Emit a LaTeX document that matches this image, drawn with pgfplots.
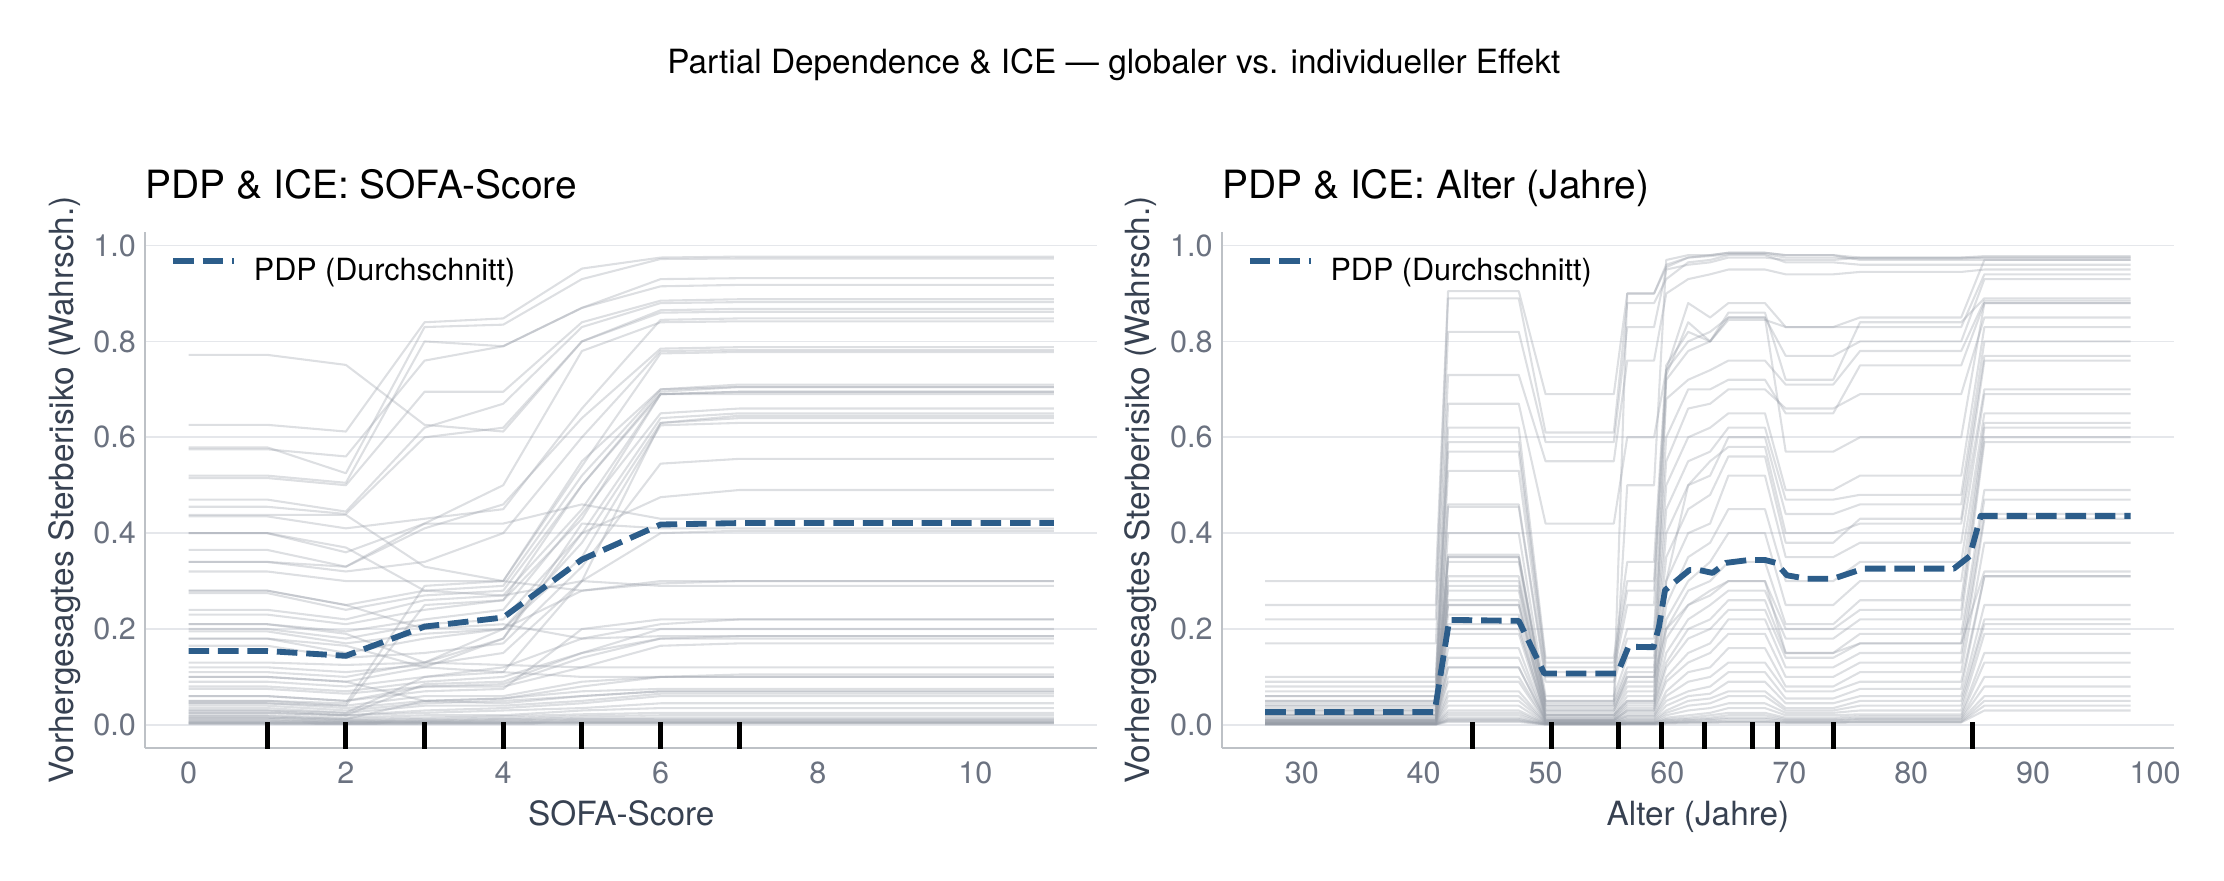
\documentclass[border=0pt]{standalone}
\usepackage{pgfplots}
\pgfplotsset{compat=1.18}
\usepackage{fontspec}
\setmainfont{TeX Gyre Heros}
\definecolor{pdpblue}{RGB}{44,93,138}
\definecolor{icecol}{RGB}{150,156,166}
\definecolor{tickcol}{RGB}{107,114,128}
\definecolor{labcol}{RGB}{55,65,81}
\definecolor{spinecol}{RGB}{189,193,198}
\definecolor{gridcol}{RGB}{229,231,235}
\pgfplotsset{
  ice/.style={icecol, opacity=0.32, line width=0.75pt, no markers, forget plot, line join=round},
  pdp/.style={pdpblue, line width=2.1pt, dash pattern=on 7.4pt off 3.2pt, no markers, line join=round},
  rug/.style={black, line width=1.8pt, no markers, forget plot, unbounded coords=jump},
  pdpaxis/.style={
    scale only axis, width=342.7pt, height=186pt,
    axis x line*=bottom, axis y line*=left,
    axis line style={spinecol, line width=0.8pt},
    major tick length=0pt,
    ymin=-0.049, ymax=1.029,
    ytick={0,0.2,0.4,0.6,0.8,1.0},
    ymajorgrids, grid style={gridcol, line width=0.6pt},
    /pgf/number format/assume math mode=true,
    tick label style={font=\fontsize{11}{13}\selectfont, text=tickcol},
    yticklabel style={anchor=east, inner sep=0pt, xshift=-3.2pt, /pgf/number format/fixed, /pgf/number format/fixed zerofill, /pgf/number format/precision=1},
    xticklabel style={anchor=base, inner sep=0pt, yshift=-12.5pt},
    xlabel style={at={(axis description cs:0.5,0)}, anchor=base, yshift=-27.6pt, font=\fontsize{12}{14}\selectfont, text=labcol, inner sep=0pt},
    ylabel style={at={(axis description cs:-0.0759,0.5)}, anchor=base, font=\fontsize{12}{14}\selectfont, text=labcol, inner sep=0pt},
    title style={at={(axis description cs:0,1)}, anchor=base west, yshift=6.1pt, font=\fontsize{14}{17}\selectfont, inner sep=0pt},
    legend style={at={(axis description cs:0,1)}, anchor=north west, xshift=9pt, yshift=-9.5pt, draw=none, fill=none, inner sep=0pt, outer sep=0pt, font=\fontsize{11}{13}\selectfont, nodes={inner sep=0pt}, /tikz/every odd column/.append style={column sep=6pt}},
    legend image code/.code={\draw[#1] (0pt,3.9pt) -- (22pt,3.9pt);},
    legend cell align=left,
  }
}
\begin{document}
\begin{tikzpicture}
\path[use as bounding box] (0,0) rectangle (800.64pt,316.8pt);
\node[anchor=base, font=\fontsize{12}{14}\selectfont, inner sep=0pt] at (401pt,290.4pt) {Partial Dependence \& ICE — globaler vs. individueller Effekt};

% ---------------- Left: SOFA-Score ----------------
\begin{axis}[pdpaxis, at={(52.3pt,47.4pt)}, anchor=south west,
  xmin=-0.55, xmax=11.55, xtick={0,2,4,6,8,10},
  xlabel={SOFA-Score}, ylabel={Vorhergesagtes Sterberisiko (Wahrsch.)},
  title={PDP \& ICE: SOFA-Score}]
\addplot[ice] coordinates {(0,.626)(1,.626)(2,.612)(3,.840)(4,.848)(5,.952)(6,.975)(7,.977)(11,.977)};
\addplot[ice] coordinates {(0,.579)(1,.579)(2,.525)(3,.830)(4,.835)(5,.930)(6,.972)(7,.973)(11,.973)};
\addplot[ice] coordinates {(0,.772)(1,.772)(2,.751)(3,.626)(4,.612)(5,.800)(6,.865)(7,.868)(11,.868)};
\addplot[ice] coordinates {(0,.520)(1,.520)(2,.505)(3,.800)(4,.790)(5,.870)(6,.915)(7,.918)(11,.918)};
\addplot[ice] coordinates {(0,.515)(1,.515)(2,.500)(3,.695)(4,.695)(5,.840)(6,.885)(7,.888)(11,.888)};
\addplot[ice] coordinates {(0,.575)(1,.575)(2,.560)(3,.760)(4,.790)(5,.870)(6,.930)(7,.932)(11,.932)};
\addplot[ice] coordinates {(0,.470)(1,.470)(2,.445)(3,.620)(4,.670)(5,.830)(6,.880)(7,.882)(11,.882)};
\addplot[ice] coordinates {(0,.455)(1,.455)(2,.440)(3,.600)(4,.620)(5,.800)(6,.860)(7,.862)(11,.862)};
\addplot[ice] coordinates {(0,.435)(1,.435)(2,.410)(3,.430)(4,.450)(5,.660)(6,.845)(7,.848)(11,.848)};
\addplot[ice] coordinates {(0,.400)(1,.400)(2,.360)(3,.420)(4,.500)(5,.780)(6,.840)(7,.842)(11,.842)};
\addplot[ice] coordinates {(0,.365)(1,.365)(2,.330)(3,.410)(4,.460)(5,.640)(6,.785)(7,.788)(11,.788)};
\addplot[ice] coordinates {(0,.340)(1,.340)(2,.320)(3,.340)(4,.400)(5,.600)(6,.780)(7,.782)(11,.782)};
\addplot[ice] coordinates {(0,.320)(1,.320)(2,.300)(3,.300)(4,.300)(5,.540)(6,.775)(7,.778)(11,.778)};
\addplot[ice] coordinates {(0,.280)(1,.280)(2,.250)(3,.280)(4,.290)(5,.520)(6,.700)(7,.710)(11,.710)};
\addplot[ice] coordinates {(0,.275)(1,.275)(2,.240)(3,.270)(4,.280)(5,.500)(6,.695)(7,.705)(11,.705)};
\addplot[ice] coordinates {(0,.240)(1,.240)(2,.220)(3,.260)(4,.270)(5,.450)(6,.690)(7,.695)(11,.695)};
\addplot[ice] coordinates {(0,.230)(1,.230)(2,.210)(3,.240)(4,.260)(5,.430)(6,.690)(7,.690)(11,.690)};
\addplot[ice] coordinates {(0,.210)(1,.210)(2,.195)(3,.220)(4,.240)(5,.440)(6,.650)(7,.660)(11,.660)};
\addplot[ice] coordinates {(0,.200)(1,.200)(2,.180)(3,.210)(4,.220)(5,.400)(6,.640)(7,.650)(11,.650)};
\addplot[ice] coordinates {(0,.195)(1,.195)(2,.170)(3,.190)(4,.200)(5,.380)(6,.630)(7,.645)(11,.645)};
\addplot[ice] coordinates {(0,.180)(1,.180)(2,.150)(3,.180)(4,.200)(5,.350)(6,.625)(7,.630)(11,.630)};
\addplot[ice] coordinates {(0,.165)(1,.165)(2,.140)(3,.150)(4,.170)(5,.330)(6,.545)(7,.555)(11,.555)};
\addplot[ice] coordinates {(0,.438)(1,.438)(2,.438)(3,.330)(4,.300)(5,.280)(6,.300)(7,.300)(11,.300)};
\addplot[ice] coordinates {(0,.400)(1,.400)(2,.370)(3,.280)(4,.270)(5,.300)(6,.290)(7,.290)(11,.290)};
\addplot[ice] coordinates {(0,.340)(1,.340)(2,.330)(3,.420)(4,.420)(5,.460)(6,.430)(7,.430)(11,.430)};
\addplot[ice] coordinates {(0,.130)(1,.130)(2,.125)(3,.130)(4,.180)(5,.420)(6,.410)(7,.410)(11,.410)};
\addplot[ice] coordinates {(0,.120)(1,.120)(2,.110)(3,.125)(4,.150)(5,.300)(6,.400)(7,.405)(11,.405)};
\addplot[ice] coordinates {(0,.280)(1,.280)(2,.250)(3,.200)(4,.210)(5,.180)(6,.185)(7,.185)(11,.185)};
\addplot[ice] coordinates {(0,.110)(1,.110)(2,.100)(3,.130)(4,.200)(5,.280)(6,.295)(7,.300)(11,.300)};
\addplot[ice] coordinates {(0,.100)(1,.100)(2,.090)(3,.120)(4,.180)(5,.400)(6,.475)(7,.490)(11,.490)};
\addplot[ice] coordinates {(0,.090)(1,.090)(2,.080)(3,.100)(4,.120)(5,.180)(6,.210)(7,.220)(11,.220)};
\addplot[ice] coordinates {(0,.080)(1,.080)(2,.070)(3,.090)(4,.100)(5,.150)(6,.200)(7,.200)(11,.200)};
\addplot[ice] coordinates {(0,.075)(1,.075)(2,.065)(3,.080)(4,.085)(5,.140)(6,.180)(7,.185)(11,.185)};
\addplot[ice] coordinates {(0,.060)(1,.060)(2,.050)(3,.080)(4,.080)(5,.120)(6,.165)(7,.170)(11,.170)};
\addplot[ice] coordinates {(0,.050)(1,.050)(2,.040)(3,.060)(4,.060)(5,.090)(6,.100)(7,.105)(11,.105)};
\addplot[ice] coordinates {(0,.045)(1,.045)(2,.035)(3,.050)(4,.055)(5,.080)(6,.100)(7,.100)(11,.100)};
\addplot[ice] coordinates {(0,.040)(1,.040)(2,.030)(3,.045)(4,.050)(5,.060)(6,.070)(7,.070)(11,.070)};
\addplot[ice] coordinates {(0,.035)(1,.035)(2,.025)(3,.040)(4,.040)(5,.050)(6,.065)(7,.065)(11,.065)};
\addplot[ice] coordinates {(0,.030)(1,.030)(2,.020)(3,.030)(4,.035)(5,.045)(6,.060)(7,.060)(11,.060)};
\addplot[ice] coordinates {(0,.025)(1,.025)(2,.020)(3,.025)(4,.030)(5,.035)(6,.045)(7,.045)(11,.045)};
\addplot[ice] coordinates {(0,.020)(1,.020)(2,.015)(3,.020)(4,.020)(5,.030)(6,.035)(7,.035)(11,.035)};
\addplot[ice] coordinates {(0,.018)(1,.018)(2,.012)(3,.015)(4,.018)(5,.022)(6,.025)(7,.025)(11,.025)};
\addplot[ice] coordinates {(0,.015)(1,.015)(2,.010)(3,.012)(4,.014)(5,.018)(6,.020)(7,.020)(11,.020)};
\addplot[ice] coordinates {(0,.012)(1,.012)(2,.008)(3,.010)(4,.012)(5,.014)(6,.015)(7,.015)(11,.015)};
\addplot[ice] coordinates {(0,.010)(1,.010)(2,.007)(3,.008)(4,.010)(5,.012)(6,.012)(7,.012)(11,.012)};
\addplot[ice] coordinates {(0,.008)(1,.008)(2,.006)(3,.007)(4,.008)(5,.010)(6,.010)(7,.010)(11,.010)};
\addplot[ice] coordinates {(0,.006)(1,.006)(2,.005)(3,.006)(4,.006)(5,.008)(6,.008)(7,.008)(11,.008)};
\addplot[ice] coordinates {(0,.005)(1,.005)(2,.004)(3,.005)(4,.005)(5,.006)(6,.006)(7,.006)(11,.006)};
\addplot[ice] coordinates {(0,.004)(1,.004)(2,.003)(3,.004)(4,.004)(5,.005)(6,.005)(7,.005)(11,.005)};
\addplot[ice] coordinates {(0,.003)(1,.003)(2,.002)(3,.003)(4,.003)(5,.004)(6,.004)(7,.004)(11,.004)};
\addplot[ice] coordinates {(0,.050)(1,.050)(2,.045)(3,.290)(4,.300)(5,.550)(6,.700)(7,.705)(11,.705)};
\addplot[ice] coordinates {(0,.045)(1,.045)(2,.040)(3,.250)(4,.260)(5,.500)(6,.690)(7,.695)(11,.695)};
\addplot[ice] coordinates {(0,.030)(1,.030)(2,.025)(3,.100)(4,.110)(5,.300)(6,.630)(7,.640)(11,.640)};
\addplot[ice] coordinates {(0,.210)(1,.210)(2,.190)(3,.130)(4,.125)(5,.120)(6,.120)(7,.120)(11,.120)};
\addplot[ice] coordinates {(0,.180)(1,.180)(2,.165)(3,.120)(4,.110)(5,.100)(6,.100)(7,.100)(11,.100)};
\addplot[ice] coordinates {(0,.100)(1,.100)(2,.090)(3,.050)(4,.045)(5,.060)(6,.070)(7,.070)(11,.070)};
\addplot[ice] coordinates {(0,.060)(1,.060)(2,.050)(3,.070)(4,.075)(5,.200)(6,.220)(7,.220)(11,.220)};
\addplot[ice] coordinates {(0,.002)(1,.002)(2,.002)(3,.002)(4,.002)(5,.003)(6,.003)(7,.003)(11,.003)};
\addplot[ice] coordinates {(0,.015)(1,.015)(2,.012)(3,.050)(4,.055)(5,.070)(6,.075)(7,.075)(11,.075)};
\addplot[ice] coordinates {(0,.025)(1,.025)(2,.020)(3,.085)(4,.090)(5,.150)(6,.180)(7,.180)(11,.180)};
\addplot[pdp] coordinates {(0,0.154)(1,0.154)(2,0.144)(3,0.205)(4,0.224)(5,0.345)(6,0.418)(7,0.421)(8,0.421)(9,0.421)(10,0.421)(11,0.421)};
\addlegendentry{PDP (Durchschnitt)}
\addplot[rug] coordinates {(1,-0.1)(1,0.005)(1,nan)(2,-0.1)(2,0.005)(2,nan)(3,-0.1)(3,0.005)(3,nan)(4,-0.1)(4,0.005)(4,nan)(5,-0.1)(5,0.005)(5,nan)(6,-0.1)(6,0.005)(6,nan)(7,-0.1)(7,0.005)};
\end{axis}

% ---------------- Right: Alter ----------------
\begin{axis}[pdpaxis, at={(439.9pt,47.4pt)}, anchor=south west,
  xmin=23.45, xmax=101.55, xtick={30,40,50,60,70,80,90,100},
  xlabel={Alter (Jahre)}, ylabel={Vorhergesagtes Sterberisiko (Wahrsch.)},
  title={PDP \& ICE: Alter (Jahre)}]
\addplot[ice] coordinates {(27,.30)(41,.30)(42,.905)(47.8,.905)(50,.69)(55.6,.69)(56.7,.90)(58.9,.90)(59.9,.955)(61.7,.975)(63.5,.978)(65,.982)(68,.982)(69.7,.975)(73.6,.975)(75.8,.973)(84.1,.973)(86,.975)(98,.975)};
\addplot[ice] coordinates {(27,.25)(41,.25)(42,.89)(47.8,.89)(50,.61)(55.6,.61)(56.7,.88)(58.9,.88)(59.9,.93)(61.7,.965)(63.5,.97)(65,.98)(68,.98)(69.7,.965)(73.6,.965)(75.8,.96)(84.1,.96)(86,.96)(98,.96)};
\addplot[ice] coordinates {(27,.22)(41,.22)(42,.82)(47.8,.82)(50,.59)(55.6,.59)(56.7,.83)(58.9,.83)(59.9,.95)(61.7,.96)(63.5,.965)(65,.975)(68,.975)(69.7,.97)(73.6,.97)(75.8,.975)(84.1,.975)(86,.978)(98,.978)};
\addplot[ice] coordinates {(27,.17)(41,.17)(42,.73)(47.8,.73)(50,.55)(55.6,.55)(56.7,.76)(58.9,.76)(59.9,.90)(61.7,.93)(63.5,.94)(65,.95)(68,.95)(69.7,.94)(73.6,.94)(75.8,.945)(84.1,.945)(86,.95)(98,.95)};
\addplot[ice] coordinates {(27,.10)(41,.10)(42,.67)(47.8,.67)(50,.42)(55.6,.42)(56.7,.60)(58.9,.60)(59.9,.74)(61.7,.88)(63.5,.85)(65,.88)(68,.88)(69.7,.83)(73.6,.83)(75.8,.85)(84.1,.85)(86,.97)(98,.97)};
\addplot[ice] coordinates {(27,.09)(41,.09)(42,.62)(47.8,.62)(50,.14)(55.6,.14)(56.7,.34)(58.9,.34)(59.9,.75)(61.7,.82)(63.5,.80)(65,.845)(68,.845)(69.7,.83)(73.6,.83)(75.8,.83)(84.1,.83)(86,.94)(98,.94)};
\addplot[ice] coordinates {(27,.08)(41,.08)(42,.59)(47.8,.59)(50,.13)(55.6,.13)(56.7,.30)(58.9,.30)(59.9,.74)(61.7,.80)(63.5,.82)(65,.85)(68,.85)(69.7,.77)(73.6,.77)(75.8,.80)(84.1,.80)(86,.93)(98,.93)};
\addplot[ice] coordinates {(27,.07)(41,.07)(42,.57)(47.8,.57)(50,.12)(55.6,.12)(56.7,.28)(58.9,.28)(59.9,.72)(61.7,.78)(63.5,.80)(65,.86)(68,.86)(69.7,.72)(73.6,.72)(75.8,.84)(84.1,.84)(86,.89)(98,.89)};
\addplot[ice] coordinates {(27,.06)(41,.06)(42,.53)(47.8,.53)(50,.11)(55.6,.11)(56.7,.25)(58.9,.25)(59.9,.68)(61.7,.72)(63.5,.74)(65,.76)(68,.76)(69.7,.71)(73.6,.71)(75.8,.78)(84.1,.78)(86,.885)(98,.885)};
\addplot[ice] coordinates {(27,.05)(41,.05)(42,.46)(47.8,.46)(50,.10)(55.6,.10)(56.7,.20)(58.9,.20)(59.9,.60)(61.7,.70)(63.5,.70)(65,.72)(68,.72)(69.7,.65)(73.6,.65)(75.8,.75)(84.1,.75)(86,.88)(98,.88)};
\addplot[ice] coordinates {(27,.045)(41,.045)(42,.455)(47.8,.455)(50,.09)(55.6,.09)(56.7,.18)(58.9,.18)(59.9,.55)(61.7,.66)(63.5,.67)(65,.70)(68,.70)(69.7,.66)(73.6,.66)(75.8,.69)(84.1,.69)(86,.85)(98,.85)};
\addplot[ice] coordinates {(27,.04)(41,.04)(42,.40)(47.8,.40)(50,.06)(55.6,.06)(56.7,.14)(58.9,.14)(59.9,.50)(61.7,.60)(63.5,.62)(65,.65)(68,.65)(69.7,.49)(73.6,.49)(75.8,.52)(84.1,.52)(86,.83)(98,.83)};
\addplot[ice] coordinates {(27,.035)(41,.035)(42,.355)(47.8,.355)(50,.05)(55.6,.05)(56.7,.12)(58.9,.12)(59.9,.45)(61.7,.55)(63.5,.57)(65,.62)(68,.62)(69.7,.47)(73.6,.47)(75.8,.48)(84.1,.48)(86,.80)(98,.80)};
\addplot[ice] coordinates {(27,.03)(41,.03)(42,.35)(47.8,.35)(50,.045)(55.6,.045)(56.7,.11)(58.9,.11)(59.9,.40)(61.7,.50)(63.5,.52)(65,.60)(68,.60)(69.7,.44)(73.6,.44)(75.8,.46)(84.1,.46)(86,.77)(98,.77)};
\addplot[ice] coordinates {(27,.03)(41,.03)(42,.34)(47.8,.34)(50,.04)(55.6,.04)(56.7,.10)(58.9,.10)(59.9,.35)(61.7,.45)(63.5,.48)(65,.56)(68,.56)(69.7,.38)(73.6,.38)(75.8,.43)(84.1,.43)(86,.76)(98,.76)};
\addplot[ice] coordinates {(27,.025)(41,.025)(42,.31)(47.8,.31)(50,.035)(55.6,.035)(56.7,.09)(58.9,.09)(59.9,.30)(61.7,.40)(63.5,.42)(65,.52)(68,.52)(69.7,.35)(73.6,.35)(75.8,.38)(84.1,.38)(86,.69)(98,.69)};
\addplot[ice] coordinates {(27,.02)(41,.02)(42,.29)(47.8,.29)(50,.03)(55.6,.03)(56.7,.08)(58.9,.08)(59.9,.25)(61.7,.35)(63.5,.38)(65,.45)(68,.45)(69.7,.30)(73.6,.30)(75.8,.34)(84.1,.34)(86,.65)(98,.65)};
\addplot[ice] coordinates {(27,.02)(41,.02)(42,.28)(47.8,.28)(50,.025)(55.6,.025)(56.7,.07)(58.9,.07)(59.9,.22)(61.7,.30)(63.5,.34)(65,.40)(68,.40)(69.7,.25)(73.6,.25)(75.8,.30)(84.1,.30)(86,.63)(98,.63)};
\addplot[ice] coordinates {(27,.015)(41,.015)(42,.26)(47.8,.26)(50,.02)(55.6,.02)(56.7,.06)(58.9,.06)(59.9,.20)(61.7,.28)(63.5,.30)(65,.34)(68,.34)(69.7,.21)(73.6,.21)(75.8,.26)(84.1,.26)(86,.62)(98,.62)};
\addplot[ice] coordinates {(27,.015)(41,.015)(42,.25)(47.8,.25)(50,.02)(55.6,.02)(56.7,.05)(58.9,.05)(59.9,.18)(61.7,.25)(63.5,.27)(65,.30)(68,.30)(69.7,.20)(73.6,.20)(75.8,.24)(84.1,.24)(86,.60)(98,.60)};
\addplot[ice] coordinates {(27,.012)(41,.012)(42,.23)(47.8,.23)(50,.015)(55.6,.015)(56.7,.045)(58.9,.045)(59.9,.15)(61.7,.22)(63.5,.25)(65,.28)(68,.28)(69.7,.18)(73.6,.18)(75.8,.22)(84.1,.22)(86,.59)(98,.59)};
\addplot[ice] coordinates {(27,.01)(41,.01)(42,.21)(47.8,.21)(50,.015)(55.6,.015)(56.7,.04)(58.9,.04)(59.9,.13)(61.7,.20)(63.5,.22)(65,.26)(68,.26)(69.7,.15)(73.6,.15)(75.8,.19)(84.1,.19)(86,.49)(98,.49)};
\addplot[ice] coordinates {(27,.01)(41,.01)(42,.19)(47.8,.19)(50,.012)(55.6,.012)(56.7,.035)(58.9,.035)(59.9,.12)(61.7,.18)(63.5,.20)(65,.24)(68,.24)(69.7,.14)(73.6,.14)(75.8,.17)(84.1,.17)(86,.47)(98,.47)};
\addplot[ice] coordinates {(27,.008)(41,.008)(42,.16)(47.8,.16)(50,.01)(55.6,.01)(56.7,.03)(58.9,.03)(59.9,.10)(61.7,.15)(63.5,.17)(65,.22)(68,.22)(69.7,.12)(73.6,.12)(75.8,.15)(84.1,.15)(86,.44)(98,.44)};
\addplot[ice] coordinates {(27,.008)(41,.008)(42,.14)(47.8,.14)(50,.01)(55.6,.01)(56.7,.025)(58.9,.025)(59.9,.09)(61.7,.13)(63.5,.15)(65,.19)(68,.19)(69.7,.10)(73.6,.10)(75.8,.13)(84.1,.13)(86,.43)(98,.43)};
\addplot[ice] coordinates {(27,.006)(41,.006)(42,.12)(47.8,.12)(50,.008)(55.6,.008)(56.7,.02)(58.9,.02)(59.9,.07)(61.7,.11)(63.5,.12)(65,.16)(68,.16)(69.7,.08)(73.6,.08)(75.8,.11)(84.1,.11)(86,.38)(98,.38)};
\addplot[ice] coordinates {(27,.006)(41,.006)(42,.10)(47.8,.10)(50,.008)(55.6,.008)(56.7,.018)(58.9,.018)(59.9,.06)(61.7,.09)(63.5,.10)(65,.13)(68,.13)(69.7,.07)(73.6,.07)(75.8,.09)(84.1,.09)(86,.31)(98,.31)};
\addplot[ice] coordinates {(27,.005)(41,.005)(42,.09)(47.8,.09)(50,.006)(55.6,.006)(56.7,.015)(58.9,.015)(59.9,.05)(61.7,.07)(63.5,.08)(65,.11)(68,.11)(69.7,.055)(73.6,.055)(75.8,.075)(84.1,.075)(86,.31)(98,.31)};
\addplot[ice] coordinates {(27,.005)(41,.005)(42,.07)(47.8,.07)(50,.006)(55.6,.006)(56.7,.012)(58.9,.012)(59.9,.04)(61.7,.06)(63.5,.065)(65,.09)(68,.09)(69.7,.045)(73.6,.045)(75.8,.06)(84.1,.06)(86,.25)(98,.25)};
\addplot[ice] coordinates {(27,.004)(41,.004)(42,.06)(47.8,.06)(50,.005)(55.6,.005)(56.7,.01)(58.9,.01)(59.9,.03)(61.7,.05)(63.5,.055)(65,.07)(68,.07)(69.7,.035)(73.6,.035)(75.8,.05)(84.1,.05)(86,.22)(98,.22)};
\addplot[ice] coordinates {(27,.004)(41,.004)(42,.05)(47.8,.05)(50,.005)(55.6,.005)(56.7,.008)(58.9,.008)(59.9,.025)(61.7,.04)(63.5,.045)(65,.06)(68,.06)(69.7,.03)(73.6,.03)(75.8,.04)(84.1,.04)(86,.21)(98,.21)};
\addplot[ice] coordinates {(27,.003)(41,.003)(42,.04)(47.8,.04)(50,.004)(55.6,.004)(56.7,.006)(58.9,.006)(59.9,.02)(61.7,.03)(63.5,.035)(65,.045)(68,.045)(69.7,.025)(73.6,.025)(75.8,.03)(84.1,.03)(86,.19)(98,.19)};
\addplot[ice] coordinates {(27,.003)(41,.003)(42,.03)(47.8,.03)(50,.004)(55.6,.004)(56.7,.005)(58.9,.005)(59.9,.015)(61.7,.02)(63.5,.025)(65,.035)(68,.035)(69.7,.02)(73.6,.02)(75.8,.022)(84.1,.022)(86,.15)(98,.15)};
\addplot[ice] coordinates {(27,.002)(41,.002)(42,.025)(47.8,.025)(50,.003)(55.6,.003)(56.7,.004)(58.9,.004)(59.9,.012)(61.7,.015)(63.5,.02)(65,.025)(68,.025)(69.7,.015)(73.6,.015)(75.8,.018)(84.1,.018)(86,.13)(98,.13)};
\addplot[ice] coordinates {(27,.002)(41,.002)(42,.02)(47.8,.02)(50,.003)(55.6,.003)(56.7,.004)(58.9,.004)(59.9,.01)(61.7,.012)(63.5,.015)(65,.02)(68,.02)(69.7,.012)(73.6,.012)(75.8,.014)(84.1,.014)(86,.10)(98,.10)};
\addplot[ice] coordinates {(27,.002)(41,.002)(42,.015)(47.8,.015)(50,.002)(55.6,.002)(56.7,.003)(58.9,.003)(59.9,.008)(61.7,.01)(63.5,.012)(65,.015)(68,.015)(69.7,.01)(73.6,.01)(75.8,.012)(84.1,.012)(86,.08)(98,.08)};
\addplot[ice] coordinates {(27,.001)(41,.001)(42,.012)(47.8,.012)(50,.002)(55.6,.002)(56.7,.003)(58.9,.003)(59.9,.006)(61.7,.008)(63.5,.01)(65,.012)(68,.012)(69.7,.008)(73.6,.008)(75.8,.01)(84.1,.01)(86,.06)(98,.06)};
\addplot[ice] coordinates {(27,.001)(41,.001)(42,.01)(47.8,.01)(50,.001)(55.6,.001)(56.7,.002)(58.9,.002)(59.9,.005)(61.7,.006)(63.5,.007)(65,.008)(68,.008)(69.7,.006)(73.6,.006)(75.8,.007)(84.1,.007)(86,.05)(98,.05)};
\addplot[ice] coordinates {(27,.001)(41,.001)(42,.008)(47.8,.008)(50,.001)(55.6,.001)(56.7,.002)(58.9,.002)(59.9,.004)(61.7,.005)(63.5,.006)(65,.006)(68,.006)(69.7,.005)(73.6,.005)(75.8,.006)(84.1,.006)(86,.04)(98,.04)};
\addplot[ice] coordinates {(27,.001)(41,.001)(42,.006)(47.8,.006)(50,.001)(55.6,.001)(56.7,.001)(58.9,.001)(59.9,.003)(61.7,.004)(63.5,.004)(65,.005)(68,.005)(69.7,.004)(73.6,.004)(75.8,.005)(84.1,.005)(86,.03)(98,.03)};
\addplot[ice] coordinates {(27,.06)(41,.06)(42,.35)(47.8,.35)(50,.05)(55.6,.05)(56.7,.90)(58.9,.90)(59.9,.96)(61.7,.975)(63.5,.98)(65,.985)(68,.985)(69.7,.98)(73.6,.98)(75.8,.975)(84.1,.975)(86,.975)(98,.975)};
\addplot[ice] coordinates {(27,.04)(41,.04)(42,.30)(47.8,.30)(50,.04)(55.6,.04)(56.7,.50)(58.9,.50)(59.9,.97)(61.7,.98)(63.5,.98)(65,.985)(68,.985)(69.7,.98)(73.6,.98)(75.8,.97)(84.1,.97)(86,.97)(98,.97)};
\addplot[ice] coordinates {(27,.02)(41,.02)(42,.20)(47.8,.20)(50,.02)(55.6,.02)(56.7,.05)(58.9,.05)(59.9,.73)(61.7,.84)(63.5,.80)(65,.85)(68,.85)(69.7,.57)(73.6,.57)(75.8,.60)(84.1,.60)(86,.88)(98,.88)};
\addplot[ice] coordinates {(27,.01)(41,.01)(42,.12)(47.8,.12)(50,.01)(55.6,.01)(56.7,.03)(58.9,.03)(59.9,.30)(61.7,.50)(63.5,.55)(65,.58)(68,.58)(69.7,.40)(73.6,.40)(75.8,.42)(84.1,.42)(86,.70)(98,.70)};
\addplot[ice] coordinates {(27,.05)(41,.05)(42,.25)(47.8,.25)(50,.03)(55.6,.03)(56.7,.10)(58.9,.10)(59.9,.20)(61.7,.25)(63.5,.28)(65,.30)(68,.30)(69.7,.15)(73.6,.15)(75.8,.17)(84.1,.17)(86,.32)(98,.32)};
\addplot[pdp] coordinates {(27,0.027)(40.9,0.027)(42.1,0.219)(47.8,0.217)(49.9,0.107)(55.9,0.107)(56.8,0.163)(58.85,0.162)(59.3,0.204)(59.8,0.281)(61.8,0.323)(62.6,0.323)(63.7,0.317)(64.8,0.338)(66.7,0.344)(68,0.344)(68.9,0.338)(69.8,0.312)(71.4,0.305)(73.6,0.305)(76.1,0.326)(83.5,0.326)(84.8,0.352)(85.7,0.436)(98,0.436)};
\addlegendentry{PDP (Durchschnitt)}
\addplot[rug] coordinates {(44,-0.1)(44,0.005)(44,nan)(50.5,-0.1)(50.5,0.005)(50.5,nan)(56,-0.1)(56,0.005)(56,nan)(59.5,-0.1)(59.5,0.005)(59.5,nan)(63,-0.1)(63,0.005)(63,nan)(67,-0.1)(67,0.005)(67,nan)(69,-0.1)(69,0.005)(69,nan)(73.6,-0.1)(73.6,0.005)(73.6,nan)(85,-0.1)(85,0.005)};
\end{axis}
\end{tikzpicture}
\end{document}
